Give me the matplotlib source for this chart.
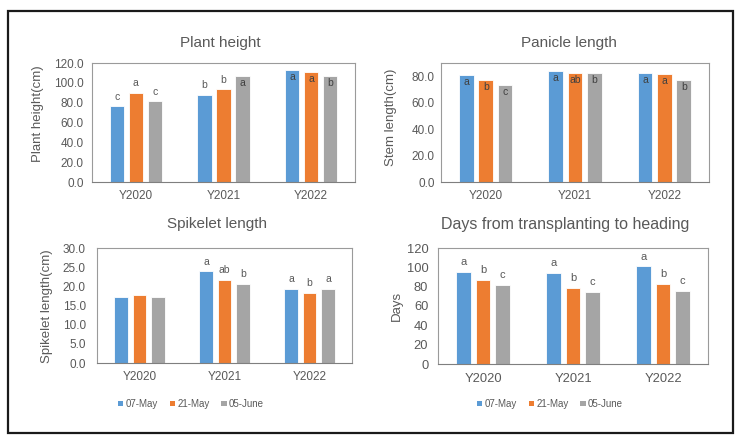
import matplotlib
matplotlib.use("Agg")
import matplotlib.pyplot as plt
from matplotlib.patches import Rectangle, Patch
import numpy as np

plt.rcParams['font.family'] = ['Liberation Sans', 'DejaVu Sans']

years = ["Y2020", "Y2021", "Y2022"]
series = ["07-May", "21-May", "05-June"]
colors = ["#5B9BD5", "#ED7D31", "#A5A5A5"]

plant_height = [[76.2, 88.0, 113.4], [90.0, 93.3, 111.0], [81.3, 106.7, 106.7]]
plant_letters = [["c", "b", "a"], ["a", "b", "a"], ["c", "a", "b"]]
plant_inside = [[False, False, True], [False, False, True], [False, True, True]]

panicle = [[81.0, 83.7, 82.5], [77.5, 82.7, 81.5], [73.5, 82.2, 77.5]]
panicle_letters = [["a", "a", "a"], ["b", "ab", "a"], ["c", "b", "b"]]

spikelet = [[17.3, 23.9, 19.4], [17.8, 21.7, 18.2], [17.1, 20.7, 19.4]]
spikelet_letters = [["", "a", "a"], ["", "ab", "b"], ["", "b", "a"]]

days = [[95.5, 94.1, 101.0], [87.2, 78.3, 83.1], [81.4, 74.5, 75.5]]
days_letters = [["a", "a", "a"], ["b", "b", "b"], ["c", "c", "c"]]

W, H = 735, 436
fig = plt.figure(figsize=(W / 100, H / 100), dpi=100)

# outer frame
fig.patches.append(Rectangle((8 / W, 1 - 433 / H), (733 - 8) / W, (433 - 11) / H,
                             transform=fig.transFigure, fill=False,
                             edgecolor="#1a1a1a", linewidth=1.6))

TXT = "#595959"


def make_ax(x0, y0, x1, y1):
    return fig.add_axes([x0 / W, 1 - y1 / H, (x1 - x0) / W, (y1 - y0) / H])


def ftext(px, py, s, **kw):
    fig.text(px / W, 1 - py / H, s, ha="center", va="center", color=TXT, **kw)


def panel(ax, data, letters, inside, ymax, ystep, fmt, ticksize, txtsize,
          ypad, xpad):
    bw = 0.163
    step = 0.217
    x = np.arange(len(years))
    for j in range(3):
        ax.bar(x + (j - 1) * step, data[j], width=bw, color=colors[j],
               edgecolor="white", linewidth=0.6, zorder=2)
        for i in range(3):
            lab = letters[j][i]
            if not lab:
                continue
            v = data[j][i]
            xi = x[i] + (j - 1) * step
            if inside[j][i]:
                ax.annotate(lab, (xi, v), xytext=(0, -1.5), textcoords="offset points",
                            ha="center", va="top", fontsize=txtsize, color="#404040",
                            zorder=3)
            else:
                ax.annotate(lab, (xi, v), xytext=(0, 3.5), textcoords="offset points",
                            ha="center", va="bottom", fontsize=txtsize, color=TXT,
                            zorder=3)
    ax.set_xlim(-0.5, 2.5)
    ax.set_ylim(0, ymax)
    ticks = np.arange(0, ymax + 0.001, ystep)
    ticks = ticks[ticks <= ymax]
    ax.set_yticks(ticks)
    ax.set_yticklabels([fmt.format(t) for t in ticks])
    ax.set_xticks(x)
    ax.set_xticklabels(years)
    ax.tick_params(length=0, labelsize=ticksize, colors=TXT)
    ax.tick_params(axis="y", pad=ypad)
    ax.tick_params(axis="x", pad=xpad)
    for s in ax.spines.values():
        s.set_color("#9A9A9A")
        s.set_linewidth(0.8)
    ax.spines["bottom"].set_color("#7F7F7F")


no_inside = [[False] * 3 for _ in range(3)]
all_inside = [[True] * 3 for _ in range(3)]

ax1 = make_ax(92, 63, 355, 182)
panel(ax1, plant_height, plant_letters, plant_inside, 120, 20, "{:.1f}", 8.5, 7.5, 6, 5.5)
ftext(220, 43, "Plant height", fontsize=11)
ftext(38, 114, "Plant height(cm)", fontsize=9.5, rotation=90)

ax2 = make_ax(441, 63, 709, 182)
panel(ax2, panicle, panicle_letters, all_inside, 90, 20, "{:.1f}", 8.5, 7.5, 4.5, 5.5)
ftext(569, 43, "Panicle length", fontsize=11)
ftext(391, 117, "Stem length(cm)", fontsize=9.5, rotation=90)

ax3 = make_ax(97, 248, 352, 363)
panel(ax3, spikelet, spikelet_letters, no_inside, 30, 5, "{:.1f}", 8.5, 7.5, 8, 5.5)
ftext(217, 224, "Spikelet length", fontsize=11)
ftext(47, 306, "Spikelet length(cm)", fontsize=9.5, rotation=90)

ax4 = make_ax(438, 248, 708, 364)
panel(ax4, days, days_letters, no_inside, 120, 20, "{:.0f}", 9.3, 8, 7, 6.5)
ftext(565, 224, "Days from transplanting to heading", fontsize=11.5)
ftext(397, 306, "Days", fontsize=9.5, rotation=90)

handles = [Patch(facecolor=c, edgecolor="none") for c in colors]
for cx in (191 / W, 550 / W):
    fig.legend(handles, series, loc="center", bbox_to_anchor=(cx, 1 - 404 / H),
               ncol=3, frameon=False, fontsize=7, labelcolor=TXT,
               handlelength=0.55, handleheight=0.55, handletextpad=0.25,
               columnspacing=1.2)

fig.savefig("out.png", dpi=100)
